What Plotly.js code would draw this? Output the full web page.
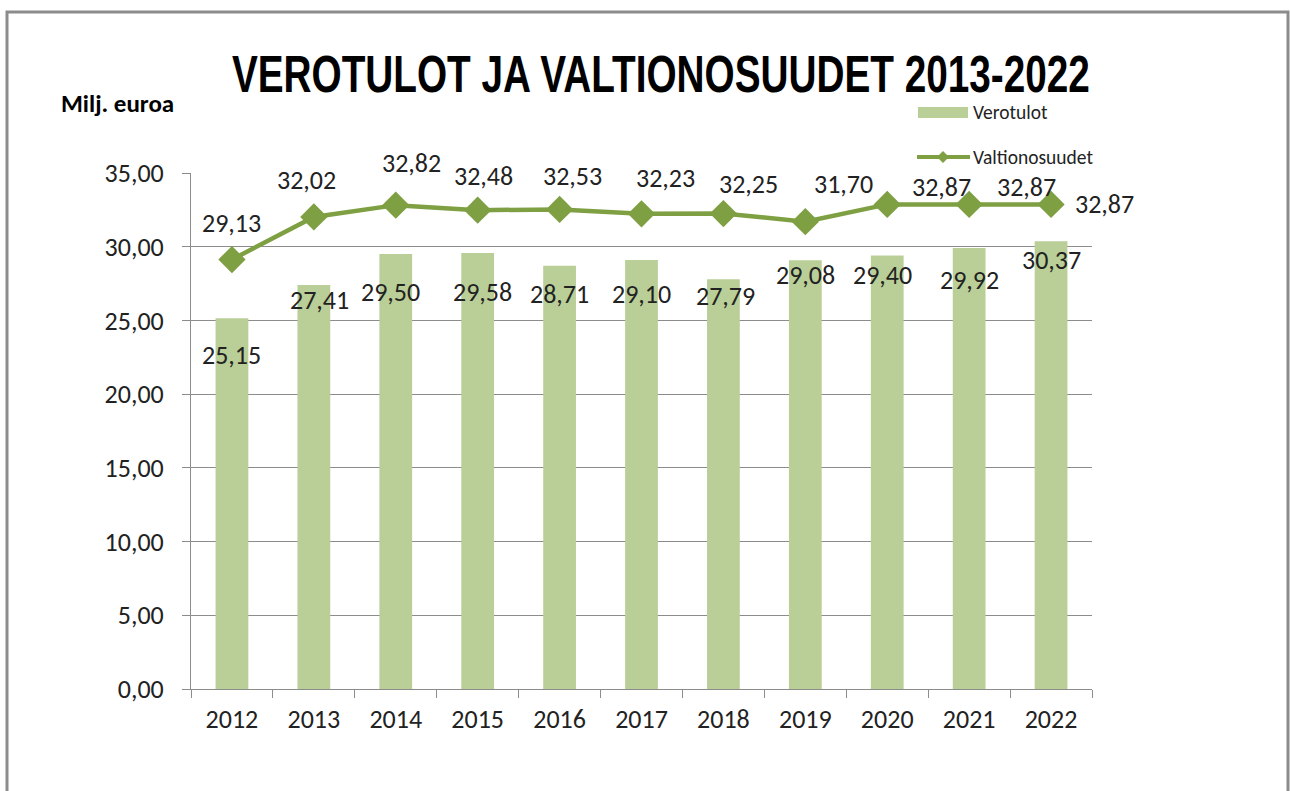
<!DOCTYPE html>
<html>
<head>
<meta charset="utf-8">
<script src="https://cdn.plot.ly/plotly-3.0.1.min.js"></script>
<style>html,body{margin:0;padding:0;background:#fff;}#chart{width:1290px;height:791px;}</style>
</head>
<body>
<div id="chart"></div>
<script>
const years = ['2012','2013','2014','2015','2016','2017','2018','2019','2020','2021','2022'];
const verotulot = [25.15, 27.41, 29.50, 29.58, 28.71, 29.10, 27.79, 29.08, 29.40, 29.92, 30.37];
const valtionosuudet = [29.13, 32.02, 32.82, 32.48, 32.53, 32.23, 32.25, 31.70, 32.87, 32.87, 32.87];
const yTicks = [0, 5, 10, 15, 20, 25, 30, 35];
const titleText = 'VEROTULOT JA VALTIONOSUUDET 2013-2022';

// label placement (pixels), kept apart from the data
const barLabelDy = [-37, -15, -38, -39, -28, -34, -17, -15, -19, -32, -19];
const barLabelDx = [0, 6, -5, 5, 0, 0, 2, 0, -5, 0, 0];
const lineLabelDy = [37, 37, 42, 34, 33, 36, 30, 38, 17, 17, 0];
const lineLabelDx = [0, -7, 16, 6, 13, 24, 25, 38, 54, 57, 53];

const fmt = v => v.toFixed(2).replace('.', ',');
const FONT = 'Carlito, Lato, sans-serif';
const labelFont = {family: FONT, size: 26, color: '#222'};

const PX = p => (p - 191) / 901;
const PY = p => (689 - p) / 516;

const annotations = [];
years.forEach((y, i) => {
  annotations.push({x: i, y: verotulot[i], xref: 'x', yref: 'y', text: fmt(verotulot[i]),
    showarrow: false, xanchor: 'center', yanchor: 'middle', yshift: barLabelDy[i], xshift: barLabelDx[i], font: labelFont});
  annotations.push({x: i, y: valtionosuudet[i], xref: 'x', yref: 'y', text: fmt(valtionosuudet[i]),
    showarrow: false, xanchor: 'center', yanchor: 'middle', yshift: lineLabelDy[i], xshift: lineLabelDx[i], font: labelFont});
});
annotations.push({xref: 'paper', yref: 'paper', x: PX(661), y: PY(74), text: '<b>' + titleText + '</b>',
  showarrow: false, xanchor: 'center', yanchor: 'middle',
  font: {family: '"Liberation Sans", Arial, sans-serif', size: 51, color: '#000'}});
annotations.push({xref: 'paper', yref: 'paper', x: PX(59), y: PY(104), text: '<b>Milj. euroa</b>',
  showarrow: false, xanchor: 'left', yanchor: 'middle', font: {family: FONT, size: 25, color: '#000'}});
annotations.push({xref: 'paper', yref: 'paper', x: PX(971), y: PY(112), text: 'Verotulot',
  showarrow: false, xanchor: 'left', yanchor: 'middle', font: {family: FONT, size: 19.5, color: '#222'}});
annotations.push({xref: 'paper', yref: 'paper', x: PX(971), y: PY(157), text: 'Valtionosuudet',
  showarrow: false, xanchor: 'left', yanchor: 'middle', font: {family: FONT, size: 19.5, color: '#222'}});

const barColor = '#B9CF97';
const lineColor = '#7E9F42';

const shapes = [
  {type: 'rect', xref: 'paper', yref: 'paper', x0: PX(7), x1: PX(1288), y0: PY(820), y1: PY(12),
   line: {color: '#8c8c8c', width: 3}, fillcolor: 'rgba(0,0,0,0)', layer: 'below'},
  {type: 'rect', xref: 'paper', yref: 'paper', x0: PX(918), x1: PX(968), y0: PY(118), y1: PY(107),
   line: {width: 0}, fillcolor: barColor},
  {type: 'line', xref: 'paper', yref: 'paper', x0: PX(917), x1: PX(970), y0: PY(157), y1: PY(157),
   line: {color: lineColor, width: 4}},
  {type: 'path', xref: 'paper', yref: 'paper',
   path: `M ${PX(937)} ${PY(157)} L ${PX(943)} ${PY(151)} L ${PX(949)} ${PY(157)} L ${PX(943)} ${PY(163)} Z`,
   fillcolor: lineColor, line: {width: 0}}
];

const traces = [
  {type: 'bar', x: years, y: verotulot, name: 'Verotulot', marker: {color: barColor}, width: 0.4, hoverinfo: 'skip'},
  {type: 'scatter', mode: 'lines+markers', x: years, y: valtionosuudet, name: 'Valtionosuudet',
   line: {color: lineColor, width: 4.5}, marker: {symbol: 'diamond', size: 21, color: lineColor}, cliponaxis: false, hoverinfo: 'skip'}
];

const axisFont = {family: FONT, size: 26, color: '#222'};
const layout = {
  width: 1290, height: 791,
  margin: {l: 191, r: 198, t: 173, b: 102, pad: 0},
  paper_bgcolor: '#fff', plot_bgcolor: '#fff',
  separators: ', ',
  showlegend: false,
  xaxis: {type: 'category', range: [-0.5, 10.5], autorange: false, tickson: 'boundaries', ticks: 'outside', ticklen: 8,
    tickcolor: '#8c8c8c', tickwidth: 1, tickangle: 0,
    showline: true, linecolor: '#8c8c8c', linewidth: 1, showgrid: false, tickfont: axisFont, ticklabelstandoff: 7,
    zeroline: false, fixedrange: true},
  yaxis: {range: [0, 35], autorange: false, tickvals: yTicks, tickformat: '.2f', ticks: 'outside', ticklen: 8, tickcolor: '#8c8c8c', tickwidth: 1,
    showline: true, linecolor: '#8c8c8c', linewidth: 1, showgrid: true, gridcolor: '#8c8c8c', gridwidth: 1,
    zeroline: false, tickfont: axisFont, ticklabelstandoff: 13, fixedrange: true},
  annotations: annotations,
  shapes: shapes
};

Plotly.newPlot('chart', traces, layout, {displayModeBar: false, staticPlot: true}).then(() => {
  // condense the title to the reference's narrow bold face
  document.querySelectorAll('#chart .annotation-text').forEach(t => {
    if (t.textContent === titleText) {
      t.setAttribute('textLength', '858');
      t.setAttribute('lengthAdjust', 'spacingAndGlyphs');
    }
  });
});
</script>
</body>
</html>
